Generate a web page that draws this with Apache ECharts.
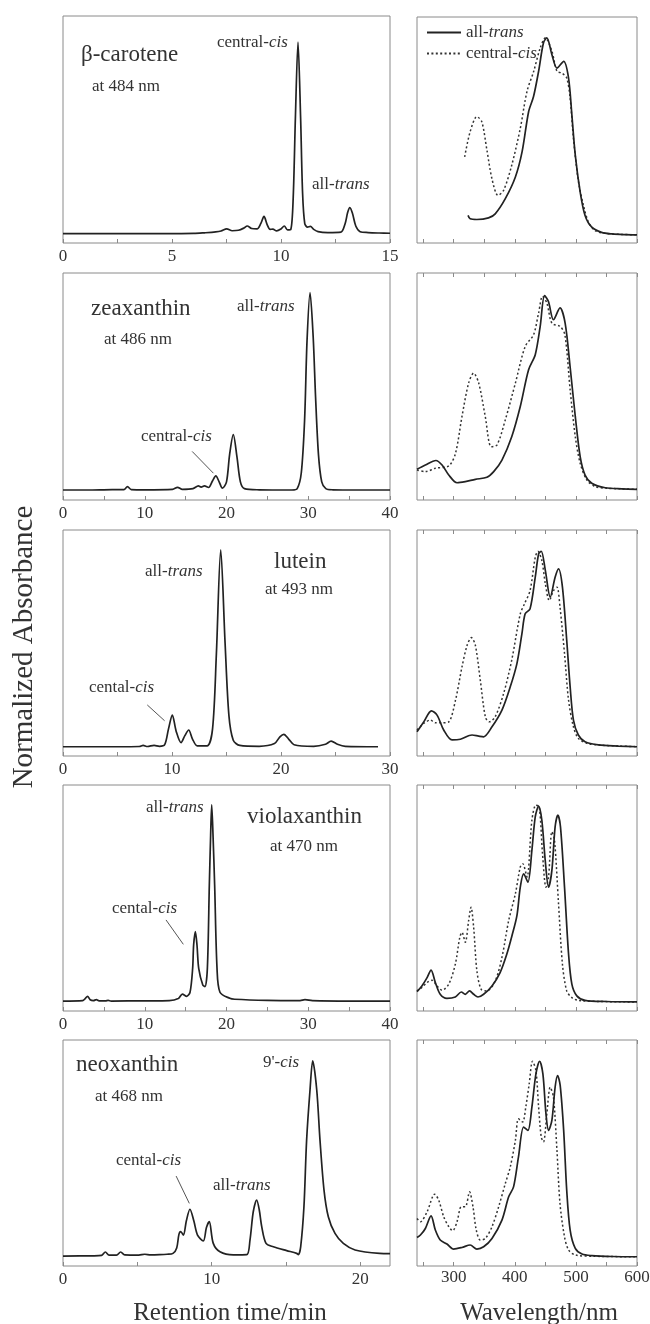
<!DOCTYPE html>
<html>
<head>
<meta charset="utf-8">
<title>Carotenoid isomers: HPLC traces and absorption spectra</title>
<script src="https://cdn.jsdelivr.net/npm/echarts@6/dist/echarts.min.js"></script>
<style>
  html, body { margin: 0; padding: 0; background: #fff; }
  #chart { width: 650px; height: 1324px; }
</style>
</head>
<body>
<div id="chart"></div>
<script>
// ---- HPLC chromatograms: [retention time (min), normalized absorbance] ----
const betaCaroteneTrace = [[0,0.041],[2,0.041],[4,0.041],[6,0.042],[6.5,0.045],[7,0.049],[7.25,0.053],[7.51,0.062],[7.76,0.054],[8.05,0.056],[8.3,0.066],[8.45,0.075],[8.65,0.064],[8.9,0.062],[9.07,0.085],[9.22,0.117],[9.37,0.08],[9.5,0.06],[9.63,0.061],[9.8,0.053],[10.0,0.062],[10.15,0.075],[10.3,0.058],[10.45,0.06],[10.56,0.2],[10.66,0.55],[10.78,0.885],[10.9,0.55],[10.99,0.22],[11.09,0.085],[11.22,0.07],[11.35,0.073],[11.5,0.06],[11.7,0.05],[12.15,0.046],[12.75,0.048],[12.94,0.085],[13.06,0.135],[13.16,0.156],[13.28,0.13],[13.43,0.075],[13.63,0.05],[14,0.046],[14.5,0.044],[15,0.043]];
const zeaxanthinTrace = [[0,0.044],[3,0.044],[6,0.046],[7.45,0.046],[7.89,0.059],[8.35,0.046],[10,0.045],[13.4,0.047],[14.01,0.056],[14.6,0.047],[15.9,0.05],[16.56,0.062],[16.9,0.057],[17.3,0.062],[17.8,0.055],[18.3,0.085],[18.69,0.106],[19.1,0.08],[19.5,0.052],[20.0,0.08],[20.38,0.2],[20.83,0.288],[21.28,0.19],[21.7,0.08],[22.2,0.05],[24,0.045],[28,0.044],[28.65,0.05],[29.15,0.12],[29.55,0.35],[29.85,0.7],[30.22,0.914],[30.6,0.72],[30.9,0.45],[31.25,0.2],[31.65,0.08],[32.15,0.05],[33,0.045],[36,0.044],[40,0.044]];
const luteinTrace = [[0,0.041],[5,0.041],[7,0.042],[7.35,0.047],[7.75,0.042],[8.35,0.047],[8.85,0.043],[9.33,0.05],[9.68,0.12],[10.03,0.181],[10.38,0.11],[10.83,0.059],[11.18,0.09],[11.53,0.115],[11.88,0.075],[12.32,0.045],[13.22,0.045],[13.72,0.12],[14.07,0.45],[14.47,0.912],[14.87,0.5],[15.22,0.18],[15.62,0.07],[16.22,0.047],[18,0.043],[19.4,0.055],[19.9,0.085],[20.26,0.096],[20.7,0.075],[21.2,0.05],[23,0.043],[24.08,0.052],[24.6,0.066],[25.18,0.052],[25.9,0.043],[28.9,0.041]];
const violaxanthinTrace = [[0,0.044],[2.4,0.046],[2.72,0.055],[3.0,0.065],[3.32,0.05],[3.72,0.046],[4.08,0.05],[4.42,0.045],[5.2,0.045],[5.52,0.047],[5.9,0.044],[10,0.045],[13,0.046],[14.1,0.055],[14.6,0.075],[15.13,0.065],[15.54,0.083],[15.86,0.189],[15.98,0.292],[16.19,0.351],[16.39,0.292],[16.6,0.189],[17.1,0.115],[17.37,0.108],[17.66,0.189],[17.9,0.558],[18.06,0.779],[18.19,0.912],[18.35,0.779],[18.55,0.558],[18.84,0.189],[19.2,0.083],[20.4,0.056],[21,0.052],[25,0.047],[29,0.046],[29.6,0.05],[30.5,0.046],[35,0.044],[40,0.044]];
const neoxanthinTrace = [[0,0.044],[2,0.045],[2.6,0.047],[2.85,0.062],[3.1,0.048],[3.6,0.048],[3.88,0.062],[4.15,0.049],[5.1,0.048],[5.5,0.052],[5.9,0.049],[6.5,0.05],[7,0.052],[7.4,0.056],[7.65,0.08],[7.8,0.14],[7.92,0.152],[8.1,0.137],[8.3,0.2],[8.54,0.251],[8.8,0.2],[9.05,0.137],[9.44,0.111],[9.65,0.17],[9.84,0.196],[10.11,0.1],[10.56,0.063],[11.46,0.049],[12.36,0.05],[12.58,0.115],[12.8,0.24],[13.03,0.292],[13.2,0.25],[13.37,0.174],[13.66,0.1],[14.15,0.085],[15.05,0.068],[15.72,0.056],[15.83,0.05],[15.99,0.085],[16.21,0.262],[16.39,0.557],[16.62,0.78],[16.8,0.908],[17.07,0.78],[17.29,0.557],[17.56,0.336],[17.85,0.218],[18.3,0.144],[18.86,0.1],[19.65,0.071],[21.3,0.056],[22,0.055]];

// ---- Absorption spectra: [wavelength (nm), normalized absorbance] ----
const betaCaroteneTransSpec = [[323.5,0.122],[327,0.107],[338,0.104],[357,0.111],[368,0.129],[384.5,0.196],[401,0.292],[412,0.404],[422.7,0.582],[430.7,0.648],[439,0.760],[447,0.886],[452.5,0.908],[460.7,0.834],[469,0.774],[480,0.804],[488,0.730],[493.4,0.567],[499,0.389],[507,0.226],[515,0.122],[526,0.070],[542,0.047],[559,0.040],[580,0.037],[600,0.036]];
const betaCaroteneCisSpec = [[318,0.381],[327,0.493],[338,0.559],[346,0.537],[354,0.418],[362.6,0.285],[372.5,0.211],[381.7,0.233],[395,0.344],[409,0.507],[420,0.671],[431,0.760],[441.7,0.864],[450,0.908],[460.7,0.849],[469,0.760],[477,0.752],[485,0.730],[490.6,0.641],[496,0.463],[504.3,0.270],[512.5,0.166],[520.6,0.092],[531.5,0.055],[550,0.042],[575,0.038],[600,0.036]];
const zeaxanthinTransSpec = [[240,0.135],[253.7,0.154],[271,0.174],[281,0.154],[292,0.110],[305.5,0.076],[319,0.081],[335.5,0.091],[354.4,0.100],[365.5,0.125],[379,0.176],[395,0.279],[409,0.412],[422.6,0.574],[433.5,0.640],[441.6,0.765],[448.7,0.900],[455,0.875],[463.3,0.794],[474,0.846],[482.4,0.779],[490.5,0.588],[499,0.368],[507,0.191],[515,0.110],[526,0.074],[548,0.054],[575,0.049],[600,0.047]];
const zeaxanthinCisSpec = [[240,0.132],[254,0.125],[270,0.140],[292,0.150],[303,0.206],[313.6,0.368],[324.5,0.515],[332.6,0.559],[341,0.515],[351.7,0.368],[361.5,0.235],[371,0.243],[384.5,0.353],[401,0.515],[417,0.676],[430.7,0.728],[439,0.824],[445.4,0.897],[452.5,0.868],[460.7,0.779],[474,0.765],[482,0.728],[490.6,0.485],[499,0.279],[507,0.162],[518,0.088],[531.5,0.059],[550,0.052],[575,0.049],[600,0.047]];
const luteinTransSpec = [[240,0.107],[251,0.151],[263.6,0.200],[272.8,0.181],[283.7,0.115],[297.3,0.071],[311,0.074],[330,0.093],[341,0.088],[349,0.085],[362.7,0.129],[379,0.203],[392.6,0.306],[403.5,0.409],[411.7,0.541],[417,0.629],[425,0.651],[433.5,0.791],[439,0.894],[443.3,0.906],[450,0.821],[458,0.703],[466,0.791],[471.6,0.828],[478,0.747],[485,0.512],[490.6,0.306],[496,0.159],[504,0.093],[515,0.063],[537,0.049],[570,0.044],[600,0.041]];
const luteinCisSpec = [[240,0.115],[251,0.144],[262,0.159],[270,0.147],[281,0.147],[292,0.151],[303,0.247],[313.6,0.394],[322,0.490],[329,0.524],[335.5,0.490],[343.6,0.335],[352,0.171],[358.4,0.151],[368,0.174],[381.7,0.276],[395,0.424],[409,0.629],[416,0.674],[425,0.732],[433.5,0.879],[437.8,0.906],[444.3,0.865],[450,0.762],[456.5,0.688],[463.4,0.732],[469,0.747],[474,0.659],[481.4,0.453],[488,0.247],[496,0.129],[504,0.078],[518,0.056],[540,0.048],[570,0.044],[600,0.041]];
const violaxanthinTransSpec = [[240,0.086],[248,0.111],[256.5,0.148],[263,0.181],[270,0.126],[278,0.074],[289,0.056],[302.7,0.062],[312.5,0.084],[319,0.074],[326,0.089],[332.7,0.074],[339.8,0.062],[349,0.074],[362.7,0.111],[376,0.170],[387,0.252],[395.4,0.333],[403.5,0.422],[409,0.548],[414.5,0.607],[421.5,0.570],[428,0.711],[433.5,0.859],[439,0.907],[444.3,0.844],[449.8,0.667],[455.3,0.548],[460.7,0.622],[466,0.815],[470.5,0.867],[474.8,0.815],[481.4,0.548],[488,0.252],[493.4,0.119],[501.5,0.067],[515,0.047],[550,0.042],[600,0.040]];
const violaxanthinCisSpec = [[240,0.089],[248,0.104],[256.5,0.126],[264.6,0.136],[272.8,0.111],[281,0.092],[292,0.119],[302.7,0.207],[310,0.326],[313.6,0.348],[319,0.304],[324.5,0.400],[328.4,0.459],[332.7,0.370],[338,0.178],[345,0.096],[354.4,0.089],[368,0.133],[379,0.237],[390,0.400],[401,0.519],[409,0.637],[413,0.652],[420,0.593],[428,0.844],[434.6,0.911],[440,0.904],[445.4,0.696],[451,0.548],[455.3,0.593],[460.7,0.793],[465,0.756],[471.6,0.474],[478,0.207],[485,0.089],[493.4,0.059],[504,0.047],[540,0.042],[600,0.040]];
const neoxanthinTransSpec = [[240,0.126],[245.6,0.137],[253.7,0.166],[263,0.222],[270,0.159],[278,0.115],[289,0.097],[300,0.075],[313.6,0.082],[327,0.093],[338,0.075],[349,0.085],[362.7,0.122],[379,0.203],[390,0.306],[398,0.350],[406,0.482],[414.5,0.615],[421.5,0.600],[428,0.703],[434.6,0.850],[440.6,0.906],[446,0.850],[451,0.674],[455.3,0.600],[460.7,0.644],[466,0.791],[470,0.843],[474.3,0.799],[480,0.600],[485,0.335],[490.6,0.159],[499,0.078],[510,0.053],[526,0.046],[560,0.042],[600,0.041]];
const neoxanthinCisSpec = [[240,0.210],[245.6,0.196],[256.5,0.240],[269,0.318],[275.6,0.291],[283.7,0.218],[292,0.174],[298.4,0.156],[305.5,0.196],[312.5,0.262],[319,0.262],[326,0.328],[331.6,0.262],[337,0.159],[343.6,0.115],[352,0.122],[362.7,0.174],[373.6,0.262],[384.5,0.365],[392.6,0.438],[401,0.556],[406,0.651],[412.8,0.637],[418,0.703],[423.6,0.806],[429,0.906],[434.6,0.865],[439,0.703],[443.3,0.571],[447,0.549],[452.5,0.674],[458,0.791],[463.3,0.747],[469,0.512],[474,0.276],[481.4,0.129],[488,0.071],[499,0.049],[530,0.043],[600,0.041]];

// ---- Axis ranges and tick values ----
const rtMax = [15, 40, 30, 40, 22];
const rtTickValues = [
  [0, 2.5, 5, 7.5, 10, 12.5, 15],
  [0, 5, 10, 15, 20, 25, 30, 35, 40],
  [0, 5, 10, 15, 20, 25, 30],
  [0, 5, 10, 15, 20, 25, 30, 35, 40],
  [0, 5, 10, 15, 20]
];
const rtTickLabels = [
  [0, 5, 10, 15],
  [0, 10, 20, 30, 40],
  [0, 10, 20, 30],
  [0, 10, 20, 30, 40],
  [0, 10, 20]
];
const wlRange = [240, 600];
const wlTickValues = [250, 300, 350, 400, 450, 500, 550, 600];
const wlTickLabels = [300, 400, 500, 600];

// ---- Annotation text and leader lines (leaders in data coordinates) ----
const compounds = ['β-carotene', 'zeaxanthin', 'lutein', 'violaxanthin', 'neoxanthin'];
const detection = ['at 484 nm', 'at 486 nm', 'at 493 nm', 'at 470 nm', 'at 468 nm'];
const zeaxanthinLeader = [[15.8, 0.214], [18.4, 0.118]];
const luteinLeader = [[7.73, 0.226], [9.32, 0.156]];
const violaxanthinLeader = [[12.6, 0.403], [14.72, 0.295]];
const neoxanthinLeader = [[7.61, 0.398], [8.5, 0.277]];

const traces = [betaCaroteneTrace, zeaxanthinTrace, luteinTrace, violaxanthinTrace, neoxanthinTrace];
const transSpectra = [betaCaroteneTransSpec, zeaxanthinTransSpec, luteinTransSpec, violaxanthinTransSpec, neoxanthinTransSpec];
const cisSpectra = [betaCaroteneCisSpec, zeaxanthinCisSpec, luteinCisSpec, violaxanthinCisSpec, neoxanthinCisSpec];
const leaders = [null, zeaxanthinLeader, luteinLeader, violaxanthinLeader, neoxanthinLeader];

// ---- Layout ----
const FONT = '"Liberation Serif", "Times New Roman", Times, serif';
const FRAME = '#8a8a8a';
const INK = '#222';
const TEXT = '#333';
const panelTop = [16, 273, 530, 785, 1040];
const panelBottom = [243, 500, 756, 1011, 1266];
const leftX = 63, leftW = 327;
const rightX = 417, rightW = 220;

const grids = [], xAxes = [], yAxes = [], series = [];

function frame(left, top, width, height) {
  return { left: left, top: top, width: width, height: height,
           outerBoundsMode: 'none', containLabel: false,
           show: true, borderColor: FRAME, borderWidth: 1, backgroundColor: 'transparent' };
}
for (let i = 0; i < 5; i++) {
  grids.push(frame(leftX, panelTop[i], leftW, panelBottom[i] - panelTop[i]));
}
for (let i = 0; i < 5; i++) {
  const top = i === 0 ? panelTop[i] + 1 : panelTop[i];
  grids.push(frame(rightX, top, rightW, panelBottom[i] - top));
}

const labelStyle = { fontFamily: FONT, fontSize: 17, color: TEXT };

// Retention-time axes
for (let i = 0; i < 5; i++) {
  xAxes.push({
    type: 'value', gridIndex: i, min: 0, max: rtMax[i], position: 'bottom',
    axisLine: { show: false }, splitLine: { show: false },
    axisTick: { show: true, inside: true, length: 4, lineStyle: { color: FRAME }, customValues: rtTickValues[i] },
    axisLabel: Object.assign({ show: true, margin: 5, customValues: rtTickLabels[i] }, labelStyle)
  });
}
// Wavelength axes
for (let i = 0; i < 5; i++) {
  xAxes.push({
    type: 'value', gridIndex: 5 + i, min: wlRange[0], max: wlRange[1], position: 'bottom',
    axisLine: { show: false }, splitLine: { show: false },
    axisTick: { show: true, inside: true, length: 4, lineStyle: { color: FRAME }, customValues: wlTickValues },
    axisLabel: Object.assign({ show: i === 4, margin: 3, customValues: wlTickLabels }, labelStyle)
  });
}
// Top tick rows on the lower spectra frames
for (let i = 1; i < 5; i++) {
  xAxes.push({
    type: 'value', gridIndex: 5 + i, min: wlRange[0], max: wlRange[1], position: 'top',
    axisLine: { show: false }, splitLine: { show: false },
    axisTick: { show: true, inside: true, length: 4, lineStyle: { color: FRAME }, customValues: wlTickValues },
    axisLabel: { show: false }
  });
}
for (let g = 0; g < 10; g++) {
  yAxes.push({ type: 'value', gridIndex: g, min: 0, max: 1, show: false });
}

const baseLine = {
  type: 'line', showSymbol: false, symbol: 'none', smooth: 0.3,
  animation: false, silent: true
};

for (let i = 0; i < 5; i++) {
  const s = Object.assign({}, baseLine, {
    name: 'trace-' + i, xAxisIndex: i, yAxisIndex: i, data: traces[i],
    itemStyle: { color: INK },
    lineStyle: { color: INK, width: 1.7 }
  });
  if (leaders[i]) {
    s.markLine = {
      silent: true, symbol: ['none', 'none'], animation: false,
      label: { show: false },
      lineStyle: { color: '#555', width: 1, type: 'solid' },
      data: [[{ coord: leaders[i][0] }, { coord: leaders[i][1] }]]
    };
  }
  series.push(s);
}
for (let i = 0; i < 5; i++) {
  series.push(Object.assign({}, baseLine, {
    name: 'central-cis', xAxisIndex: 5 + i, yAxisIndex: 5 + i, data: cisSpectra[i],
    itemStyle: { color: '#333' },
    lineStyle: { color: '#333', width: 1.5, type: [2, 2.4] }
  }));
  series.push(Object.assign({}, baseLine, {
    name: 'all-trans', xAxisIndex: 5 + i, yAxisIndex: 5 + i, data: transSpectra[i],
    itemStyle: { color: INK },
    lineStyle: { color: INK, width: 1.7, type: 'solid' }
  }));
}

// ---- Text annotations ----
const rich = {
  n: { fontFamily: FONT, fontSize: 17, fill: TEXT, color: TEXT },
  i: { fontFamily: FONT, fontSize: 17, fontStyle: 'italic', fill: TEXT, color: TEXT }
};
function plainText(str, x, y, size, align) {
  return { type: 'text', x: x, y: y, silent: true,
    style: { text: str, fontFamily: FONT, fontSize: size, fill: TEXT,
             textAlign: align || 'left', textVerticalAlign: 'middle' } };
}
function isomerText(prefix, italic, x, y) {
  return { type: 'text', x: x, y: y, silent: true,
    style: { text: '{n|' + prefix + '}{i|' + italic + '}', rich: rich,
             fontFamily: FONT, fontSize: 17, fill: TEXT,
             textAlign: 'left', textVerticalAlign: 'middle' } };
}

const graphics = [
  plainText(compounds[0], 81, 55, 23), plainText(detection[0], 92, 87, 17),
  isomerText('central-', 'cis', 217, 43), isomerText('all-', 'trans', 312, 185),

  plainText(compounds[1], 91, 309, 23), plainText(detection[1], 104, 340, 17),
  isomerText('all-', 'trans', 237, 307), isomerText('central-', 'cis', 141, 437),

  plainText(compounds[2], 274, 562, 23), plainText(detection[2], 265, 590, 17),
  isomerText('all-', 'trans', 145, 572), isomerText('cental-', 'cis', 89, 688),

  plainText(compounds[3], 247, 817, 23), plainText(detection[3], 270, 847, 17),
  isomerText('all-', 'trans', 146, 808), isomerText('cental-', 'cis', 112, 909),

  plainText(compounds[4], 76, 1065, 23), plainText(detection[4], 95, 1097, 17),
  isomerText("9'-", 'cis', 263, 1063), isomerText('cental-', 'cis', 116, 1161),
  isomerText('all-', 'trans', 213, 1186),

  plainText('Retention time/min', 230, 1313, 25, 'center'),
  plainText('Wavelength/nm', 539, 1313, 25, 'center'),
  { type: 'text', x: 24, y: 647, rotation: Math.PI / 2, silent: true,
    style: { text: 'Normalized Absorbance', fontFamily: FONT, fontSize: 29, fill: TEXT,
             textAlign: 'center', textVerticalAlign: 'middle' } }
];

const chart = echarts.init(document.getElementById('chart'), null, { renderer: 'canvas' });
chart.setOption({
  backgroundColor: '#fff',
  animation: false,
  grid: grids,
  xAxis: xAxes,
  yAxis: yAxes,
  legend: {
    data: ['all-trans', 'central-cis'],
    orient: 'vertical', left: 421, top: 19,
    itemWidth: 34, itemHeight: 14, itemGap: 4,
    selectedMode: false,
    itemStyle: { opacity: 0 },
    textStyle: { fontFamily: FONT, fontSize: 17, color: TEXT, rich: {
      n: { fontFamily: FONT, fontSize: 17, color: TEXT },
      i: { fontFamily: FONT, fontSize: 17, color: TEXT, fontStyle: 'italic' }
    } },
    formatter: function (name) {
      return name === 'all-trans' ? '{n|all-}{i|trans}' : '{n|central-}{i|cis}';
    }
  },
  series: series,
  graphic: graphics
});
</script>
</body>
</html>
